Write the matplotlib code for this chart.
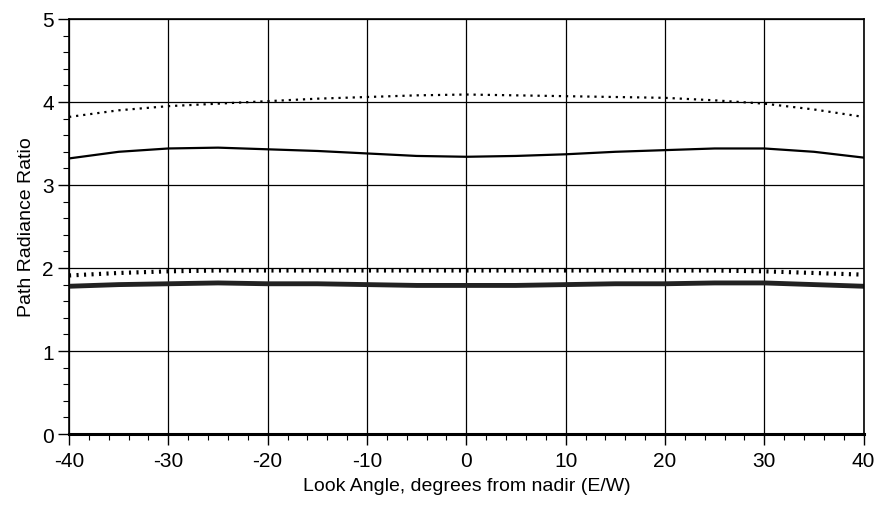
import numpy as np
import matplotlib
matplotlib.use("Agg")
import matplotlib.pyplot as plt
from matplotlib.ticker import MultipleLocator

plt.rcParams['font.family'] = ['Liberation Sans', 'DejaVu Sans']
plt.rcParams['axes.unicode_minus'] = False

angle = [-40, -35, -30, -25, -20, -15, -10, -5, 0, 5, 10, 15, 20, 25, 30, 35, 40]
upper_dotted = [3.82, 3.90, 3.95, 3.98, 4.01, 4.04, 4.06, 4.08, 4.09,
                4.08, 4.07, 4.06, 4.05, 4.02, 3.98, 3.91, 3.82]
upper_solid = [3.32, 3.40, 3.44, 3.45, 3.43, 3.41, 3.38, 3.35, 3.34,
               3.35, 3.37, 3.40, 3.42, 3.44, 3.44, 3.40, 3.33]
lower_dotted = [1.91, 1.94, 1.96, 1.97, 1.97, 1.97, 1.97, 1.97, 1.97,
                1.97, 1.97, 1.97, 1.97, 1.97, 1.96, 1.94, 1.92]
lower_solid = [1.78, 1.80, 1.81, 1.82, 1.81, 1.81, 1.80, 1.79, 1.79,
               1.79, 1.80, 1.81, 1.81, 1.82, 1.82, 1.80, 1.78]

fig = plt.figure(figsize=(8.75, 5.06), dpi=100)
ax = fig.add_axes([0.0789, 0.1403, 0.9081, 0.8202])

ax.plot(angle, upper_dotted, color='black', lw=1.6, ls=(0, (1, 2.2)))
ax.plot(angle, upper_solid, color='black', lw=1.6)
ax.plot(angle, lower_dotted, color='black', lw=3.0, ls=(0, (0.5, 1.3)))
ax.plot(angle, lower_solid, color='#222222', lw=3.5)

ax.set_xlim(-40, 40)
ax.set_ylim(0, 5)
ax.xaxis.set_major_locator(MultipleLocator(10))
ax.xaxis.set_minor_locator(MultipleLocator(2))
ax.yaxis.set_major_locator(MultipleLocator(1))
ax.yaxis.set_minor_locator(MultipleLocator(0.2))

ax.grid(True, which='major', color='black', lw=0.9)
ax.tick_params(which='major', direction='out', length=8, width=1,
               labelsize=15, pad=3)
ax.tick_params(which='minor', direction='out', length=4.5, width=0.8)
ax.tick_params(axis='x', pad=4)

for side in ['top', 'right', 'left']:
    ax.spines[side].set_linewidth(1.2)
ax.spines['bottom'].set_linewidth(2.2)

ax.set_xlabel('Look Angle, degrees from nadir (E/W)', fontsize=14, labelpad=5)
ax.set_ylabel('Path Radiance Ratio', fontsize=14, labelpad=5)

fig.savefig('out.png', dpi=100)
